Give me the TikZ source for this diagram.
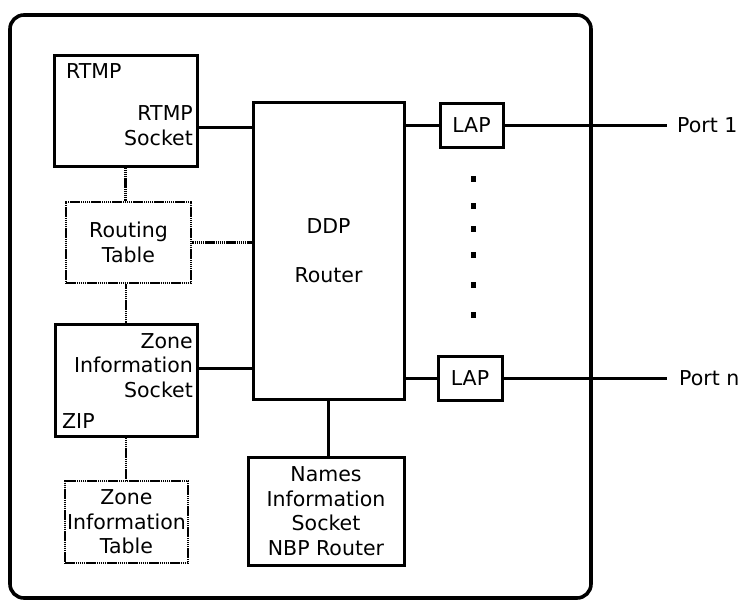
\documentclass[tikz,border=0pt]{standalone}
\usepackage{fontspec}
\setmainfont{DejaVu Sans}
\usetikzlibrary{calc}

\begin{document}
\begin{tikzpicture}[x=1pt,y=-1pt,
  every node/.style={font=\fontsize{20.5}{24.5}\selectfont},
  box/.style={draw, line width=3pt, inner sep=0pt},
  tbl/.style={draw, line width=2.8pt, dash pattern=on 1.5pt off 0.6pt, inner sep=0pt, align=center},
  wire/.style={line width=3pt},
  dots/.style={line width=2.8pt, dash pattern=on 1.5pt off 0.6pt},
  lbl/.style={inner sep=0pt, align=center}]
  \useasboundingbox (0,0) rectangle (740,603);
  % outer frame
  \draw[line width=3.6pt, rounded corners=14pt] (10,15) rectangle (591,598);

  % DDP router
  \node[box, lbl, minimum width=151, minimum height=297] (ddp) at (328.5,250.5) {DDP\\[24pt]Router};

  % RTMP
  \node[box, minimum width=143, minimum height=111] (rtmp) at (125.5,110.5) {};
  \node[lbl, anchor=base west] (rtmpname) at (66,78) {RTMP};
  \node[lbl, align=right, anchor=base east] (rtmpsock) at (193,145) {RTMP\\Socket};
  \node[tbl, minimum width=125, minimum height=81] (rtab) at (128.5,242.5) {Routing\\Table};

  % ZIP
  \node[box, minimum width=142, minimum height=112] (zip) at (126,380) {};
  \node[lbl, align=right, anchor=base east] (zipsock) at (193,397) {Zone\\Information\\Socket};
  \node[lbl, anchor=base west] (zipname) at (62,428) {ZIP};
  \node[tbl, minimum width=123, minimum height=82] (ztab) at (126.5,522) {Zone\\Information\\Table};

  % NBP
  \node[box, lbl, minimum width=156, minimum height=108] (nbp) at (326,511) {Names\\Information\\Socket\\NBP Router};

  % LAPs and ports
  \node[box, minimum width=63, minimum height=44] (lap1) at (471.5,125) {LAP};
  \node[box, minimum width=64, minimum height=44] (lapn) at (470,378) {LAP};
  \coordinate (p1) at (667,125);
  \coordinate (pn) at (667,378);
  \node[lbl, anchor=west] (port1) at (677,125) {Port 1};
  \node[lbl, anchor=west] (portn) at (679,378) {Port n};

  % connections
  \draw[wire] ($(rtmp.south east)!0.35!(rtmp.north east)$) coordinate (r1) -- (r1 -| ddp.west);
  \draw[dots] (rtab.east) -- (rtab.east -| ddp.west);
  \draw[wire] ($(zip.south east)!0.6!(zip.north east)$) coordinate (z1) -- (z1 -| ddp.west);
  \draw[dots] (rtmp.south) -- (rtmp.south |- rtab.north);
  \draw[dots] (zip.north) -- (zip.north |- rtab.south);
  \draw[dots] (zip.south) -- (zip.south |- ztab.north);
  \draw[wire] (ddp.south) -- (ddp.south |- nbp.north);
  \draw[wire] (ddp.east |- lap1.west) -- (lap1.west);
  \draw[wire] (ddp.east |- lapn.west) -- (lapn.west);
  \draw[wire] (lap1.east) -- (p1);
  \draw[wire] (lapn.east) -- (pn);

  % ellipsis between the ports
  \foreach \y in {179,206,229,255,285,315}
    \fill (470.5,\y-3) rectangle ++(5,6);
\end{tikzpicture}
\end{document}
